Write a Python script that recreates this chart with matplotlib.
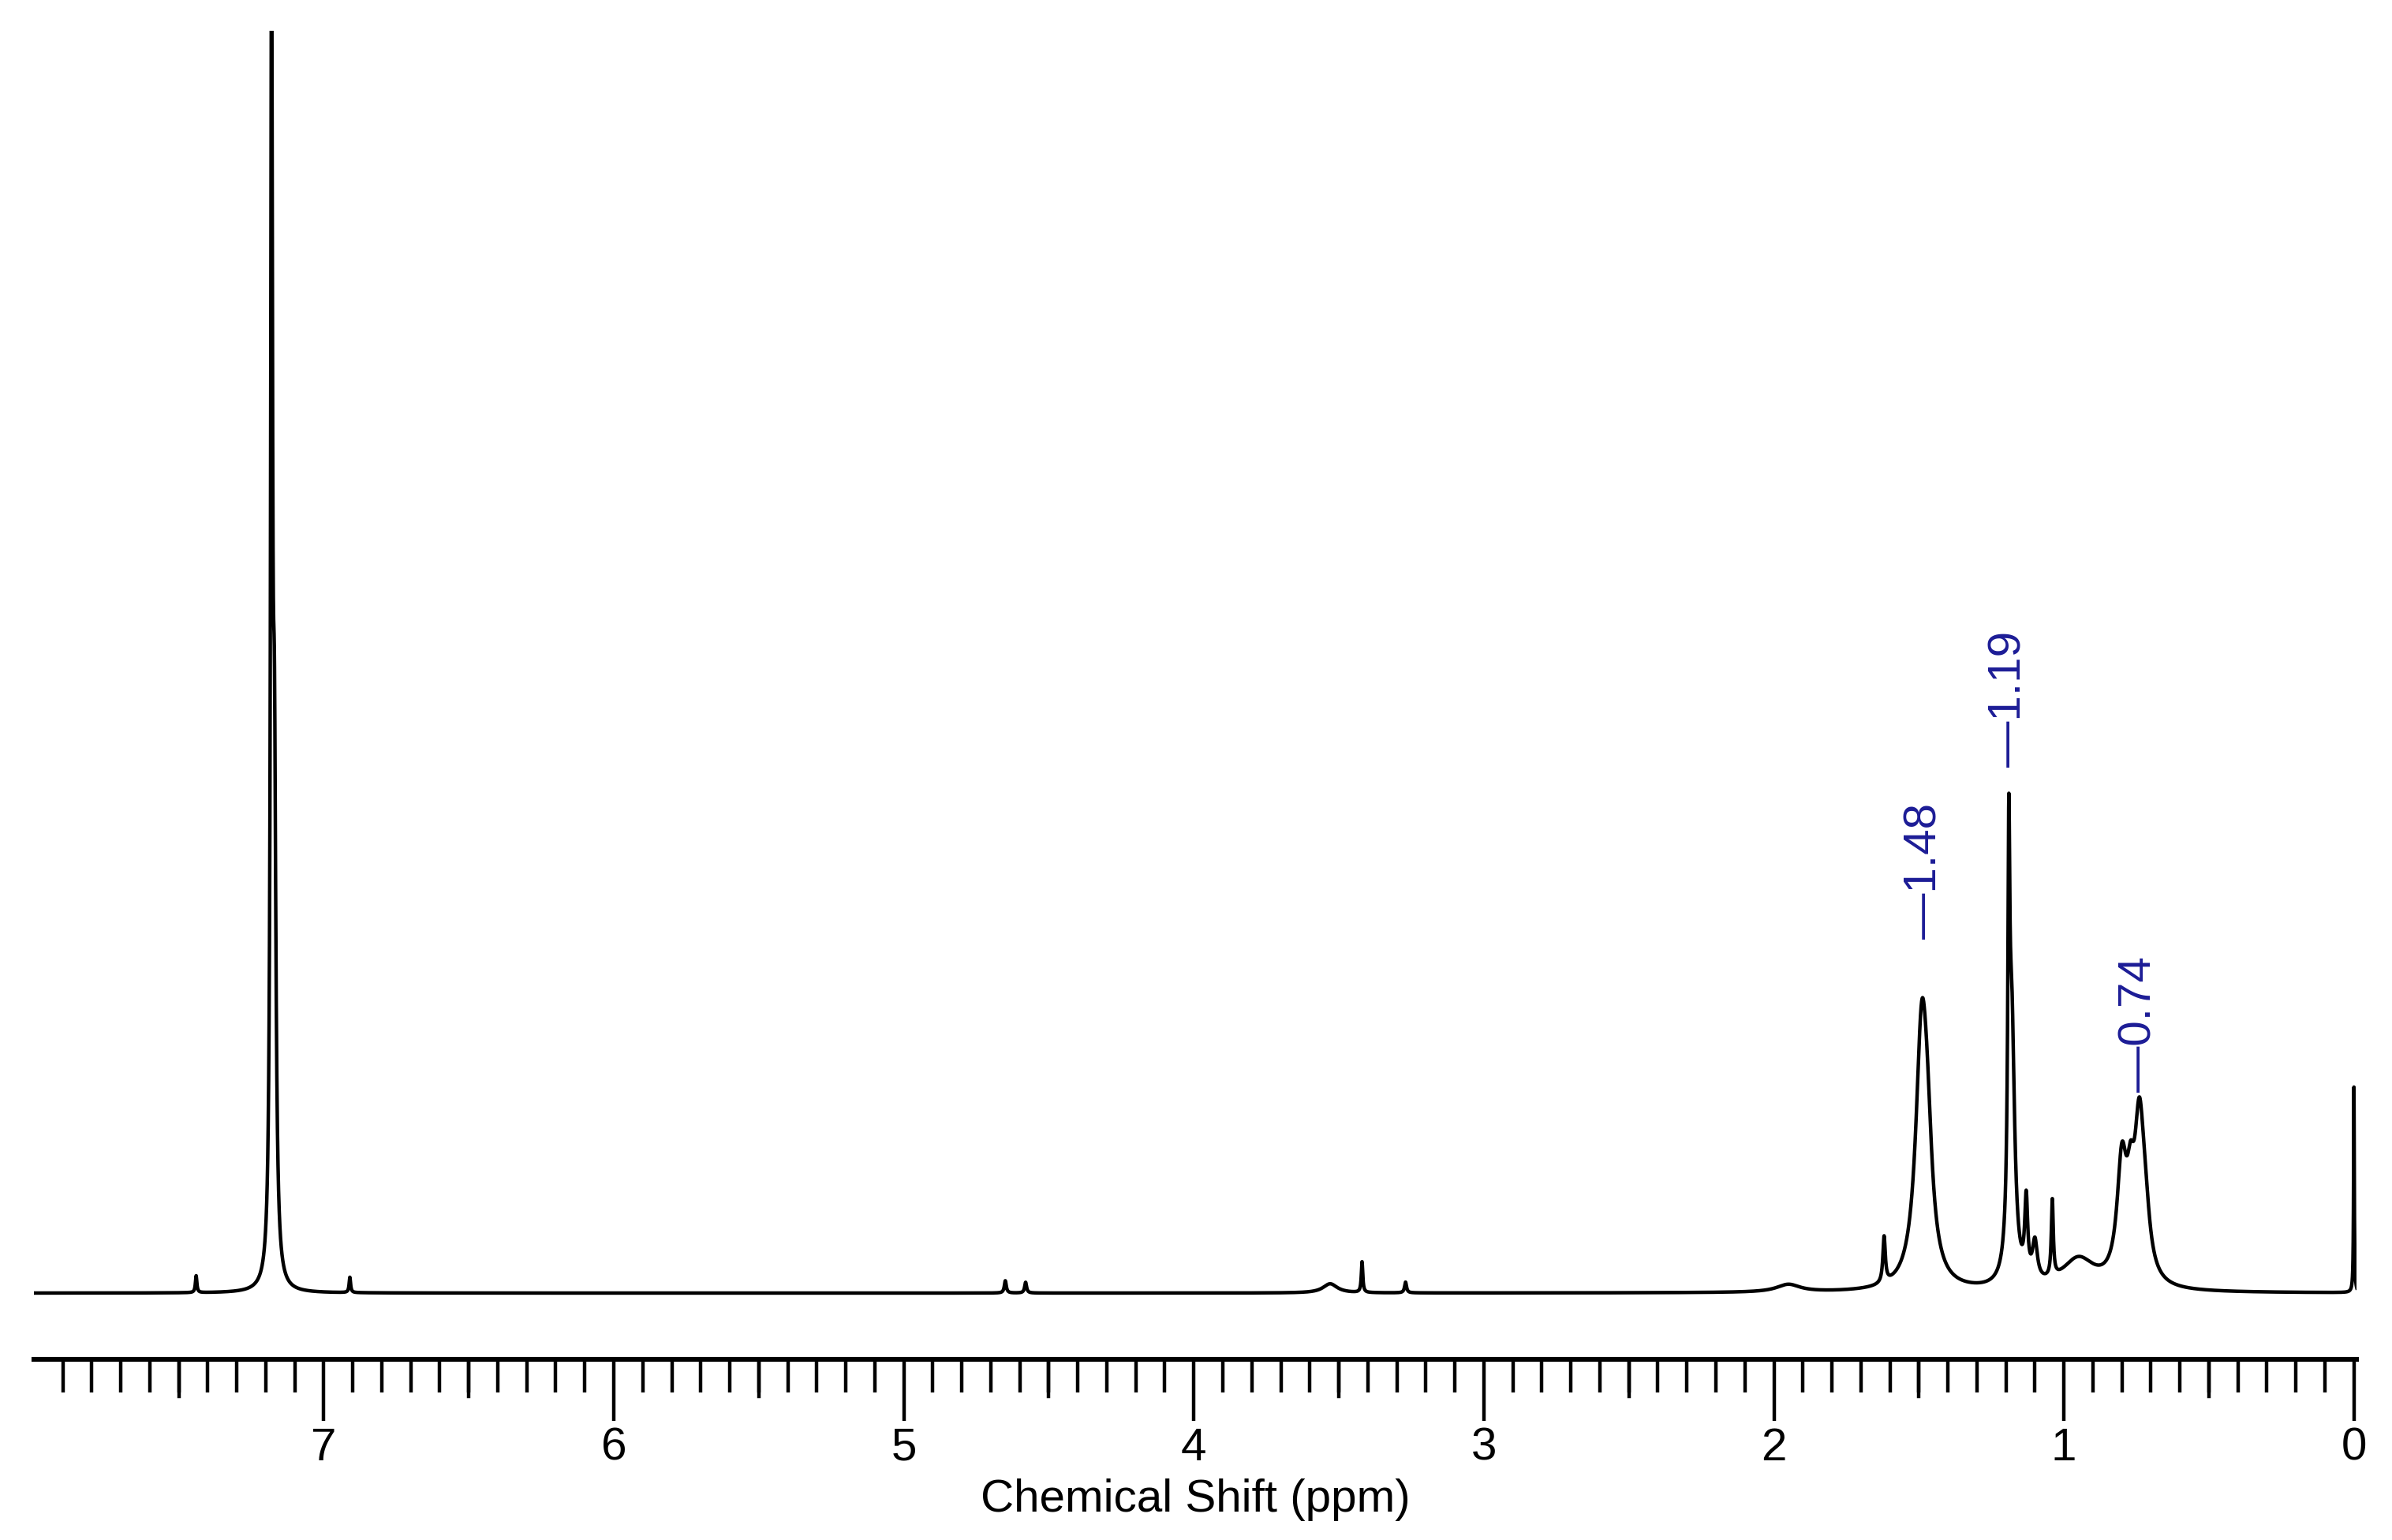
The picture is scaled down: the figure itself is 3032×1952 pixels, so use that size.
import numpy as np
import matplotlib.pyplot as plt
import matplotlib.transforms as mtransforms

plt.rcParams['font.family'] = ['Liberation Sans', 'DejaVu Sans']

# peaks: position (ppm), height (arb.), half width (ppm)
peak_pos = [7.18, 7.17, 7.44, 6.91, 4.65, 4.58, 3.53, 3.42, 3.27, 1.95,
            1.62, 1.49, 1.47, 1.19, 1.18, 1.13, 1.10, 1.04, 0.95, 0.80, 0.77, 0.74, 0.72, 0.0]
peak_h = [820, 300, 11, 10, 8, 7, 6, 20, 7, 5,
          30, 165, 50, 220, 170, 50, 25, 50, 20, 75, 40, 95, 30, 134]
peak_w = [0.004, 0.006, 0.003, 0.003, 0.004, 0.004, 0.03, 0.003, 0.004, 0.05,
          0.005, 0.025, 0.02, 0.004, 0.012, 0.006, 0.01, 0.004, 0.07, 0.02, 0.015, 0.02, 0.02, 0.0015]

label_pos = [1.48, 1.19, 0.74]
label_txt = ['1.48', '1.19', '0.74']
label_y = [231, 343, 131]

ppm = np.linspace(8.0, -0.01, 40000)
spec = np.zeros_like(ppm)
for p, h, w in zip(peak_pos, peak_h, peak_w):
    spec += h * w**2 / ((ppm - p)**2 + w**2)

fig = plt.figure(figsize=(15.16, 9.76), dpi=200)
ax = fig.add_axes([0.0141, 0.1175, 0.9712, 0.8625])
ax.plot(ppm, spec, color='black', lw=1.6)
ax.set_xlim(8.0, -0.01)
ax.set_ylim(-43, 823)

for sp in ['top', 'left', 'right']:
    ax.spines[sp].set_visible(False)
ax.spines['bottom'].set_linewidth(2.2)
ax.set_yticks([])
ax.set_xticks(np.arange(0, 8, 1))
ax.set_xticklabels([str(i) for i in range(8)])
ax.set_xticks(np.round(np.arange(0.1, 8.0, 0.1), 1), minor=True)
ax.tick_params(axis='x', which='major', length=28, width=1.6, labelsize=21, pad=3)
ax.tick_params(axis='x', which='minor', length=15, width=1.6)
# half-ppm ticks are a bit longer
trans = mtransforms.blended_transform_factory(ax.transData, ax.transAxes)
for x in np.arange(0.5, 8, 1.0):
    ax.plot([x, x], [0, -0.028], transform=trans, color='black', lw=1.6, clip_on=False)

ax.set_xlabel('Chemical Shift (ppm)', fontsize=21, labelpad=4)

for x, t, y in zip(label_pos, label_txt, label_y):
    ax.text(x, y, '\u2014' + t, rotation=90, color='#1c1c96', fontsize=21,
            ha='center', va='bottom')

fig.savefig('out.png', dpi=200, facecolor='white')
